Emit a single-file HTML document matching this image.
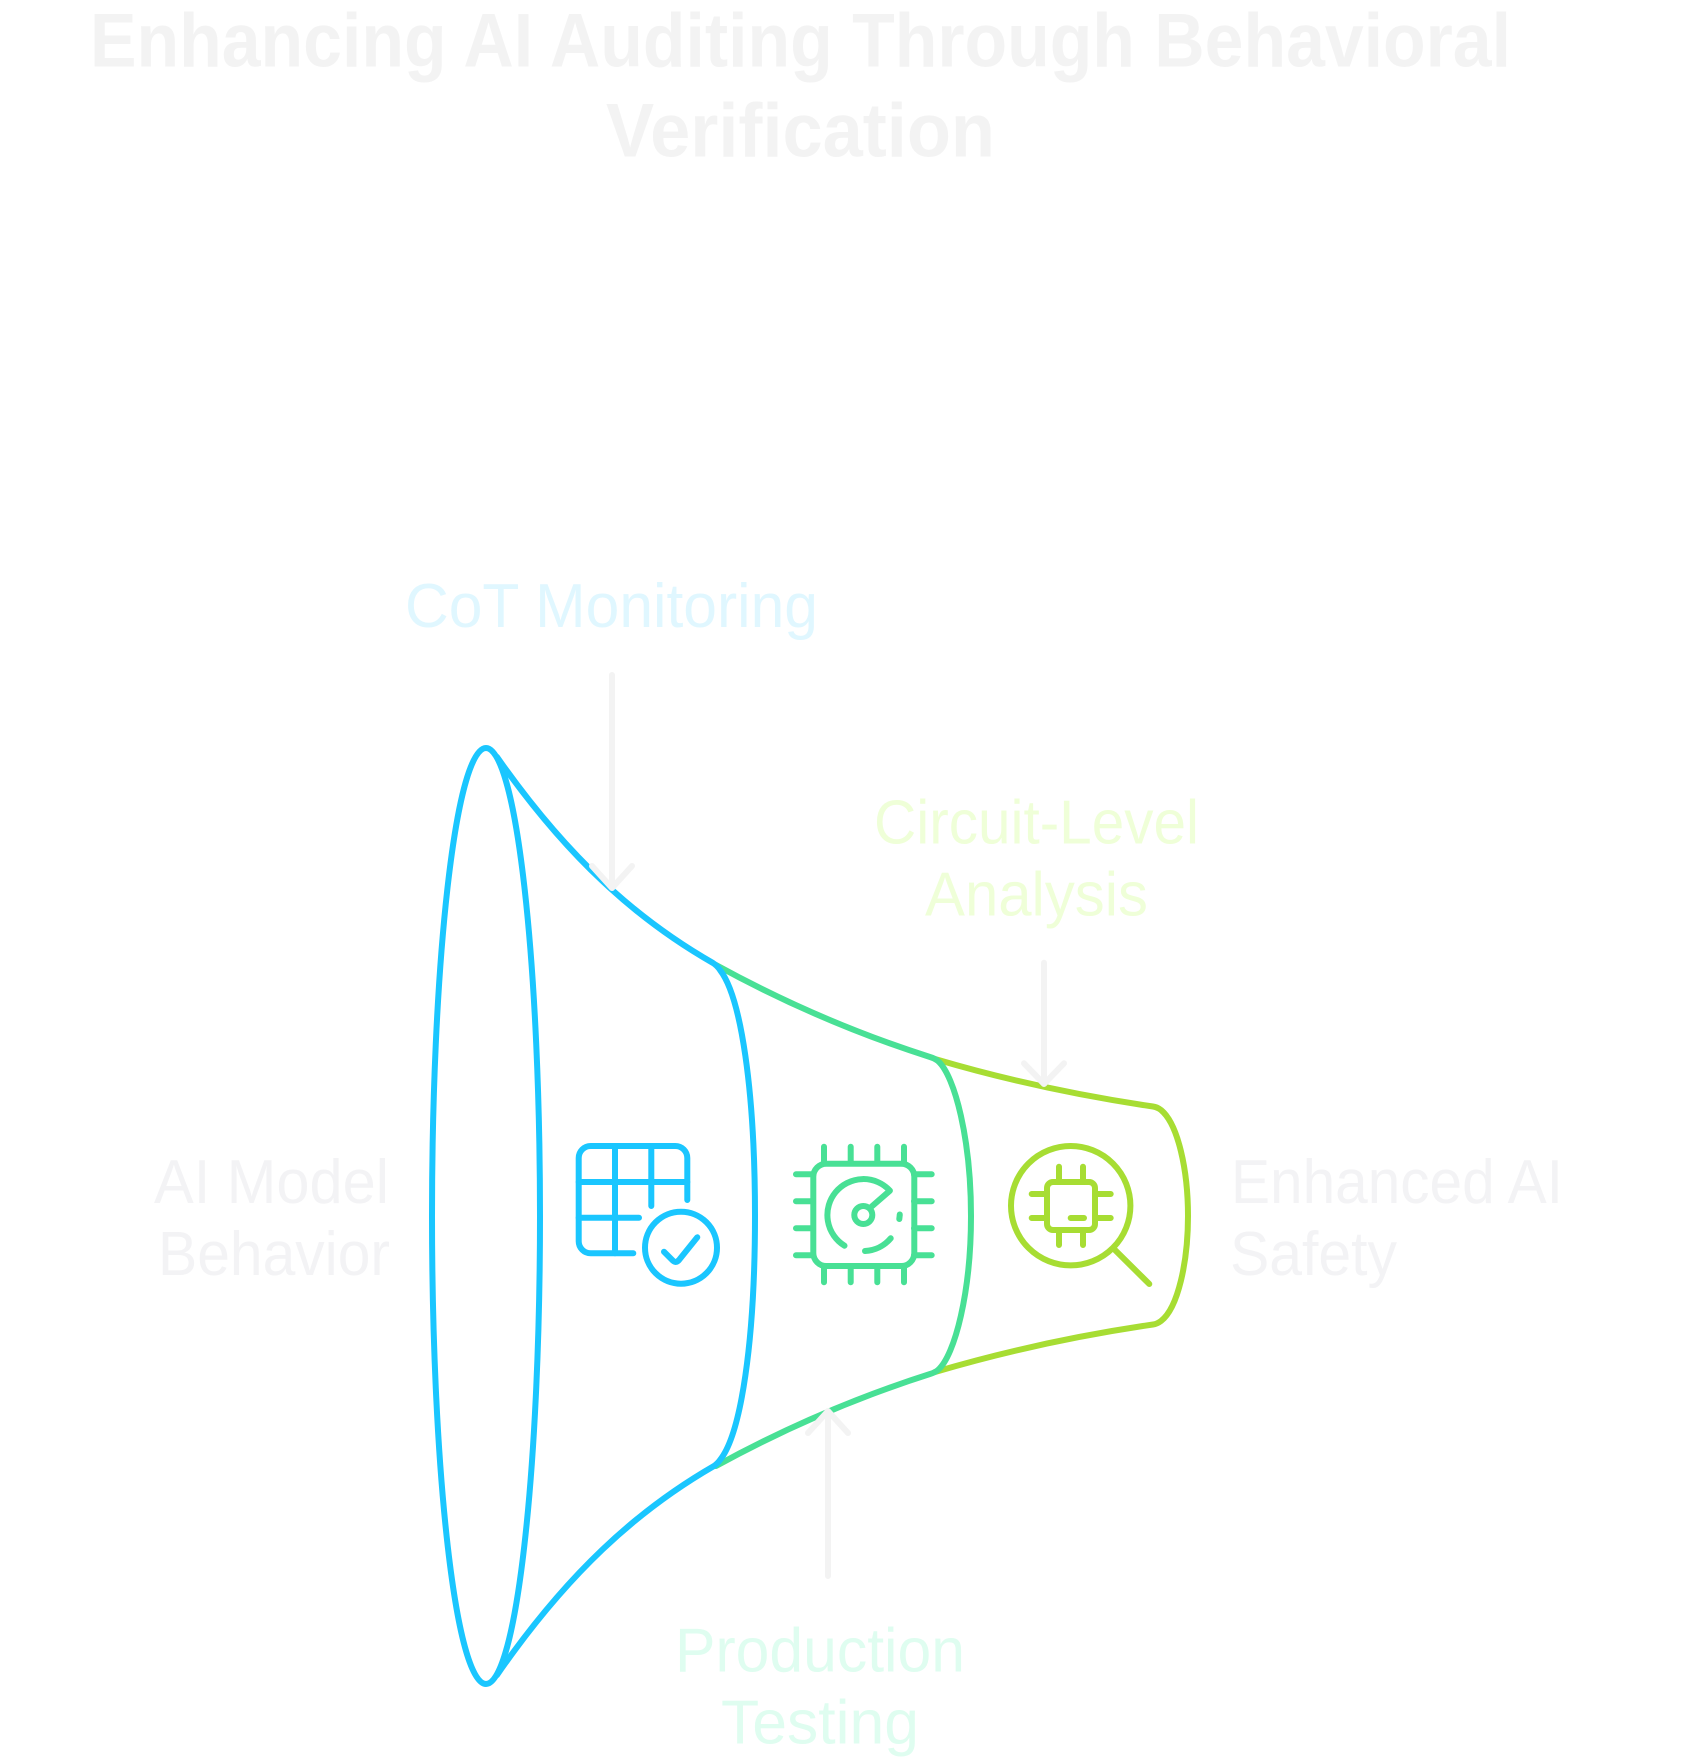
<!DOCTYPE html>
<html><head><meta charset="utf-8"><style>
html,body{margin:0;padding:0;background:#fff}
svg{display:block}
text{font-family:"Liberation Sans",sans-serif}
.t{font-size:62px}
.h{font-size:76px;font-weight:700;fill:#f3f3f3}
.s{fill:none;stroke-width:6;stroke-linecap:round;stroke-linejoin:round}
.b{stroke:#1ac6ff}.g{stroke:#48e095}.l{stroke:#a7dd33}.a{stroke:#f3f3f3}
</style></head><body>
<svg width="1692" height="1764" viewBox="0 0 1692 1764" xmlns="http://www.w3.org/2000/svg">
<text class="h" x="90" y="66.7" textLength="1421" lengthAdjust="spacingAndGlyphs">Enhancing AI Auditing Through Behavioral</text>
<text class="h" x="606" y="156.7" textLength="389" lengthAdjust="spacingAndGlyphs">Verification</text>

<text class="t" x="405" y="627" textLength="413" lengthAdjust="spacingAndGlyphs" fill="#e0f7ff">CoT Monitoring</text>
<text class="t" x="874" y="843.5" textLength="325" lengthAdjust="spacingAndGlyphs" fill="#efffd8">Circuit-Level</text>
<text class="t" x="925" y="915.5" textLength="223" lengthAdjust="spacingAndGlyphs" fill="#efffd8">Analysis</text>
<text class="t" x="675" y="1671.5" textLength="290" lengthAdjust="spacingAndGlyphs" fill="#dffdf0">Production</text>
<text class="t" x="721" y="1743.500" textLength="198" lengthAdjust="spacingAndGlyphs" fill="#dffdf0">Testing</text>
<text class="t" x="154" y="1203" textLength="235" lengthAdjust="spacingAndGlyphs" fill="#f3f3f5">AI Model</text>
<text class="t" x="158" y="1275" textLength="232" lengthAdjust="spacingAndGlyphs" fill="#f3f3f5">Behavior</text>
<text class="t" x="1231" y="1203" textLength="332" lengthAdjust="spacingAndGlyphs" fill="#f3f3f5">Enhanced AI</text>
<text class="t" x="1230" y="1275" textLength="167" lengthAdjust="spacingAndGlyphs" fill="#f3f3f5">Safety</text>

<!-- funnel: lime -->
<g class="s l">
<path d="M935 1059Q1040 1090 1153 1106.500Q1157 1107 1161 1110C1178 1124 1188 1170 1188 1216C1188 1262 1178 1308 1161 1321Q1157 1324 1153 1324.500Q1040 1341 935 1372"/>
</g>
<!-- green -->
<g class="s g">
<path d="M716 965Q820 1022 930 1057Q935 1058.500 938 1061C955 1076 971 1140 971 1216C971 1292 955 1355 938 1370Q935 1372.500 930 1374Q820 1409 716 1466"/>
</g>
<!-- blue -->
<g class="s b">
<ellipse cx="486" cy="1216" rx="54" ry="468"/>
<path d="M497 757C567 857 636 919 713 963Q717 965.500 720 970C741 997 755 1090 755 1216C755 1342 741 1434 720 1460Q718 1463 714 1466C636 1511 567 1574 497 1675"/>
</g>

<!-- arrows -->
<g class="s a">
<path d="M612 675V888M592 866L612 888L632 866"/>
<path d="M1044 962.700V1084M1024 1063.300L1044 1084L1064 1063.300"/>
<path d="M828 1576V1411M808 1433L828 1411L848 1433"/>
</g>

<!-- table icon -->
<g class="s b">
<path d="M687.300 1200V1158A12 12 0 0 0 675.300 1146H590.700A12 12 0 0 0 578.700 1158V1241.300A12 12 0 0 0 590.700 1253.300H633.300"/>
<path d="M615 1146V1253.300M651.300 1146V1206M578.700 1182H687.300M578.700 1217.700H639"/>
<circle cx="681" cy="1247.700" r="36"/>
<path d="M664 1251.700L673 1260.700Q676 1263.500 679 1260L697.300 1237.300"/>
</g>

<!-- chip gauge icon -->
<g class="s g">
<rect x="813.300" y="1163.700" width="101" height="102.300" rx="13"/>
<path d="M824 1146.700V1163M850.700 1146.700V1163M877.300 1146.700V1163M904 1146.700V1163"/>
<path d="M824 1266V1282.300M850.700 1266V1282.300M877.300 1266V1282.300M904 1266V1282.300"/>
<path d="M796 1174.300H813M796 1201.300H813M796 1228.300H813M796 1255.300H813"/>
<path d="M914 1174.300H931.700M914 1201.300H931.700M914 1228.300H931.700M914 1255.300H931.700"/>
<circle cx="863.300" cy="1215" r="9"/>
<path d="M844.500 1245.700A36 36 0 1 1 889.900 1190.700L871.700 1206.500"/>
<path d="M865 1251A36 36 0 0 0 890.700 1238.300"/>
<path d="M899.800 1214.500L899.300 1219"/>
</g>

<!-- magnifier chip icon -->
<g class="s l">
<circle cx="1070.700" cy="1205.700" r="59.700"/>
<path d="M1115 1250L1149.300 1284"/>
<rect x="1047" y="1182" width="48" height="48" rx="6"/>
<path d="M1059 1166.700V1182M1083 1166.700V1182M1059 1230V1245M1083 1230V1245"/>
<path d="M1031.700 1194H1047M1031.700 1218H1047M1095 1194H1110.700M1095 1218H1110.700"/>
<path d="M1070.700 1218H1084"/>
</g>
</svg>
</body></html>
